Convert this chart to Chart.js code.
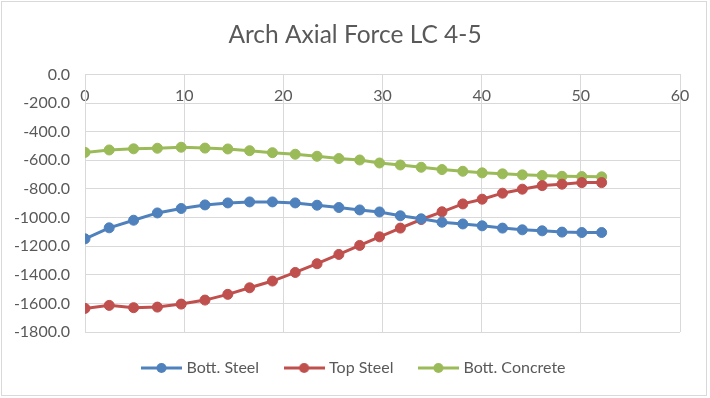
<!DOCTYPE html>
<html>
<head>
<meta charset="utf-8">
<script src="https://cdn.jsdelivr.net/npm/chart.js@4/dist/chart.umd.min.js"></script>
<style>
  html, body { margin: 0; padding: 0; background: #ffffff; }
  #wrap { width: 710px; height: 398px; }
</style>
</head>
<body>
<div id="wrap"><canvas id="c" width="710" height="398"></canvas></div>
<script>
// ---- Data ----
const chartTitle = "Arch Axial Force LC 4-5";
const seriesNames = ["Bott. Steel", "Top Steel", "Bott. Concrete"];
const stations = [0, 2.44, 4.9, 7.3, 9.7, 12.1, 14.4, 16.6, 18.9, 21.2, 23.4, 25.6, 27.7,
                  29.7, 31.8, 33.9, 36.0, 38.1, 40.05, 42.1, 44.1, 46.1, 48.1, 50.1, 52.1];
const bottSteel = [-1149, -1072, -1019, -968, -937, -912, -898, -891, -891, -898, -914, -930, -947,
                   -961, -988, -1009, -1033, -1045, -1058, -1074, -1086, -1093, -1102, -1105, -1105];
const topSteel = [-1635, -1614, -1630, -1626, -1605, -1577, -1537, -1491, -1444, -1384, -1323, -1258, -1195,
                  -1135, -1074, -1014, -960, -905, -872, -830, -802, -777, -767, -756, -756];
const bottConcrete = [-545, -528, -520, -516, -509, -515, -521, -533, -547, -558, -572, -588, -598,
                      -619, -633, -649, -665, -677, -688, -695, -702, -707, -712, -714, -716];
const xTicks = [0, 10, 20, 30, 40, 50, 60];
const yTicks = [0, -200, -400, -600, -800, -1000, -1200, -1400, -1600, -1800];

const seriesValues = [bottSteel, topSteel, bottConcrete];
const seriesColors = ["#4F81BD", "#C0504D", "#9BBB59"];
const textColor = "#595959";
const gridColor = "#d9d9d9";
const FONT = "Lato, 'Open Sans', sans-serif";

function toPoints(vals) { return vals.map((v, i) => ({ x: stations[i], y: v })); }

function legendSymbol(color) {
  const c = document.createElement('canvas');
  c.width = 41; c.height = 12;
  const g = c.getContext('2d');
  g.strokeStyle = color; g.lineWidth = 3;
  g.beginPath(); g.moveTo(0, 6); g.lineTo(41, 6); g.stroke();
  g.fillStyle = color;
  g.beginPath(); g.arc(20.5, 6, 5, 0, Math.PI * 2); g.fill();
  return c;
}
const symbols = seriesColors.map(legendSymbol);

const frame = {
  id: 'frame',
  beforeDraw(chart) {
    const ctx = chart.ctx;
    ctx.save();
    ctx.fillStyle = '#ffffff';
    ctx.fillRect(0, 0, chart.width, chart.height);
    ctx.strokeStyle = '#d9d9d9';
    ctx.lineWidth = 1;
    ctx.strokeRect(1.5, 1.5, 705, 394);
    ctx.restore();
  }
};

new Chart(document.getElementById('c'), {
  type: 'line',
  data: {
    datasets: seriesNames.map((name, k) => ({
      label: name,
      data: toPoints(seriesValues[k]),
      borderColor: seriesColors[k],
      backgroundColor: seriesColors[k],
      pointBackgroundColor: seriesColors[k],
      pointBorderColor: seriesColors[k],
      borderWidth: 3,
      pointRadius: 5,
      pointBorderWidth: 1,
      pointHoverRadius: 5,
      tension: 0,
      fill: false,
      yAxisID: 'y'
    }))
  },
  options: {
    responsive: false,
    animation: false,
    devicePixelRatio: 1,
    layout: { padding: { left: 0, right: 0, top: 0, bottom: 12 } },
    plugins: {
      tooltip: { enabled: false },
      title: {
        display: true,
        text: chartTitle,
        color: textColor,
        font: { family: FONT, size: 24.5, weight: 'normal' },
        padding: { top: 20, bottom: 25 }
      },
      legend: {
        position: 'bottom',
        labels: {
          color: textColor,
          font: { family: FONT, size: 16 },
          usePointStyle: true,
          pointStyleWidth: 34,
          padding: 28,
          generateLabels(chart) {
            const items = Chart.defaults.plugins.legend.labels.generateLabels(chart);
            items.forEach((it, i) => { it.pointStyle = symbols[i]; });
            return items;
          }
        }
      }
    },
    scales: {
      x: {
        type: 'linear',
        position: { y: 0 },
        min: 0, max: 60,
        afterBuildTicks(scale) { scale.ticks = xTicks.map(v => ({ value: v })); },
        grid: { color: gridColor, lineWidth: 1, drawTicks: false },
        border: { color: gridColor, width: 1 },
        ticks: {
          color: textColor,
          font: { family: FONT, size: 16 },
          padding: 12,
          maxRotation: 0,
          callback: (v) => String(v)
        }
      },
      y: {
        type: 'linear',
        position: 'left',
        min: -1800, max: 0,
        afterBuildTicks(scale) { scale.ticks = yTicks.map(v => ({ value: v })); },
        afterFit(scale) { scale.width = 85; },
        grid: { color: gridColor, lineWidth: 1, drawTicks: false },
        border: { color: gridColor, width: 1 },
        ticks: {
          color: textColor,
          font: { family: FONT, size: 16 },
          padding: 15,
          callback: (v) => Number(v).toFixed(1)
        }
      },
      yRight: {
        type: 'linear',
        position: 'right',
        min: -1800, max: 0,
        afterFit(scale) { scale.width = 30; },
        grid: { drawOnChartArea: false, drawTicks: false },
        border: { display: false },
        ticks: { display: false }
      }
    }
  },
  plugins: [frame]
});
</script>
</body>
</html>
